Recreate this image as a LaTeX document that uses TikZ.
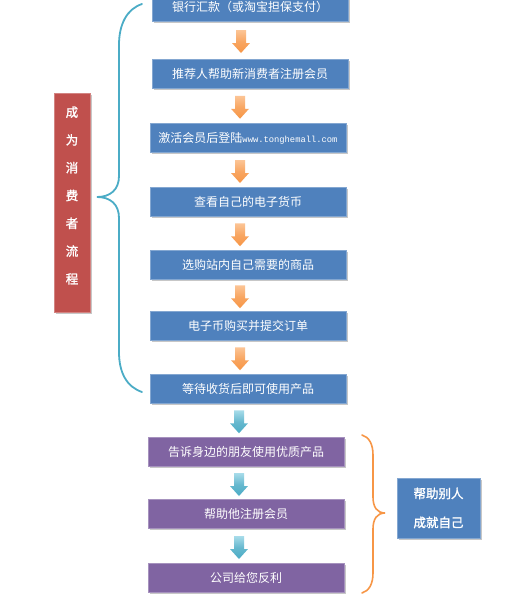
\documentclass[tikz,border=0pt]{standalone}
\usepackage{fontspec}
\setmainfont{Noto Sans CJK SC}
\newfontfamily\cjkbold[FakeBold=1.5]{Noto Sans CJK SC}
\newfontfamily\monof{Liberation Mono}
\usetikzlibrary{calc,shadows}
\definecolor{boxblue}{HTML}{4F81BD}
\definecolor{boxpurple}{HTML}{8064A2}
\definecolor{boxred}{HTML}{C0504D}
\definecolor{arrorange}{HTML}{F79646}
\definecolor{arrorangelight}{HTML}{FCC596}
\definecolor{arrteal}{HTML}{4BACC6}
\definecolor{arrteallight}{HTML}{A8DCEA}
\tikzset{
  x=1pt, y=-1pt,
  flowbox/.style={rectangle, minimum width=196pt, minimum height=29pt, inner sep=0pt,
    text=white, font=\fontsize{12}{14}\selectfont,
    drop shadow={shadow xshift=1.6pt, shadow yshift=-1.6pt, fill=black!22, opacity=1}},
  bluebox/.style={flowbox, fill=boxblue, draw=boxblue!70!white, line width=0.6pt},
  purplebox/.style={flowbox, fill=boxpurple, draw=boxpurple!70!white, line width=0.6pt},
  sidebox/.style={rectangle, inner sep=0pt, text=white,
    drop shadow={shadow xshift=1.6pt, shadow yshift=-1.6pt, fill=black!22, opacity=1}},
  sidetext/.style={text=white, font=\cjkbold\fontsize{12.5}{27.8}\selectfont, align=center, inner sep=0pt},
  brace/.style={line width=1.8pt, line cap=round},
  oarrow/.pic={\shade[top color=arrorangelight, bottom color=arrorange, middle color=arrorange!85!white]
      (-5,-11.5) -- (5,-11.5) -- (5,1.5) -- (9,1.5) -- (0,11.5) -- (-9,1.5) -- (-5,1.5) -- cycle;},
  tarrow/.pic={\shade[top color=arrteallight, bottom color=arrteal, middle color=arrteal!85!white]
      (-5,-11.5) -- (5,-11.5) -- (5,1.5) -- (9,1.5) -- (0,11.5) -- (-9,1.5) -- (-5,1.5) -- cycle;}
}
\begin{document}
\begin{tikzpicture}
\useasboundingbox (0,0) rectangle (511,597);
\clip (0,0) rectangle (511,597);
\fill[white] (0,0) rectangle (511,597);

% consumer flow boxes
\node[bluebox] (b1) at (250,6.5) {银行汇款（或淘宝担保支付）};
\node[bluebox] (b2) at (250,73.5) {推荐人帮助新消费者注册会员};
\node[bluebox] (b3) at (248,138) {激活会员后登陆{\monof\fontsize{8.8}{10}\selectfont www.tonghemall.com}};
\node[bluebox] (b4) at (248,202) {查看自己的电子货币};
\node[bluebox] (b5) at (248,264.5) {选购站内自己需要的商品};
\node[bluebox] (b6) at (248,326) {电子币购买并提交订单};
\node[bluebox] (b7) at (248,388.5) {等待收货后即可使用产品};

% helping boxes
\node[purplebox] (p1) at (246,452) {告诉身边的朋友使用优质产品};
\node[purplebox] (p2) at (246,514) {帮助他注册会员};
\node[purplebox] (p3) at (246,578) {公司给您反利};

% orange arrows
\pic at ($(b1.south)!0.5!(b2.north)+(-9,1.5)$) {oarrow};
\pic at ($(b2.south)!0.5!(b3.north)+(-9,1.5)$) {oarrow};
\pic at ($(b3.south)!0.5!(b4.north)+(-8,1.5)$) {oarrow};
\pic at ($(b4.south)!0.5!(b5.north)+(-8,1.5)$) {oarrow};
\pic at ($(b5.south)!0.5!(b6.north)+(-8,1.5)$) {oarrow};
\pic at ($(b6.south)!0.5!(b7.north)+(-8,1.5)$) {oarrow};
% teal arrows
\pic at ($(b7.south)!0.5!(p1.north)+(-8,1.5)$) {tarrow};
\pic at ($(p1.south)!0.5!(p2.north)+(-7,1.5)$) {tarrow};
\pic at ($(p2.south)!0.5!(p3.north)+(-7,1.5)$) {tarrow};

% left red label box
\node[sidebox, fill=boxred, draw=boxred!70!white, line width=0.6pt,
      minimum width=36pt, minimum height=219pt] (red) at (72,202.5) {};
\node[sidetext] (redtext) at (72,195.5) {成\\为\\消\\费\\者\\流\\程};

% right blue label box
\node[sidebox, fill=boxblue, draw=boxblue!70!white, line width=0.6pt,
      minimum width=83pt, minimum height=60pt, font=\cjkbold\fontsize{12.5}{29}\selectfont,
      align=center] (help) at (438.5,508) {帮助别人\\成就自己};

% left teal brace
\coordinate (lbtop) at (142,4);
\coordinate (lbbot) at (142,392);
\coordinate (lbtip) at (97,197);
\draw[brace, arrteal] (lbtop) .. controls (127,9) and (119,24) .. (119,45) -- (119,176)
  .. controls (119,190) and (110,197) .. (lbtip)
  .. controls (110,197) and (119,204) .. (119,218) -- (119,352)
  .. controls (119,373) and (127,387) .. (lbbot);

% right orange brace
\coordinate (rbtop) at (362,435);
\coordinate (rbbot) at (362,593);
\coordinate (rbtip) at (385,513);
\draw[brace, arrorange, line width=1.6pt] (rbtop) .. controls (369,437) and (373,444) .. (373,455) -- (373,497)
  .. controls (373,507) and (377,513) .. (rbtip)
  .. controls (377,513) and (373,519) .. (373,529) -- (373,573)
  .. controls (373,584) and (369,591) .. (rbbot);
\end{tikzpicture}
\end{document}
